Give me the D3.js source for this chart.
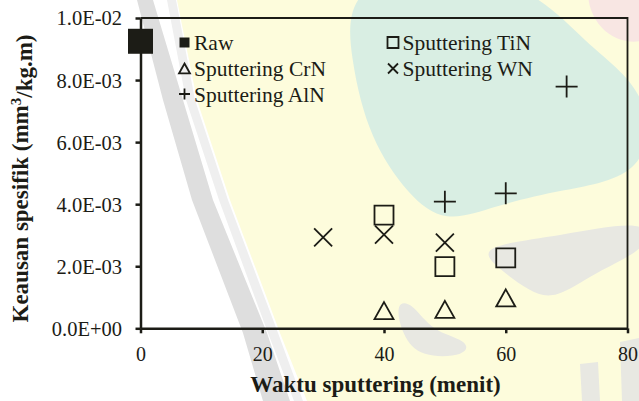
<!DOCTYPE html>
<html>
<head>
<meta charset="utf-8">
<script src="https://cdn.jsdelivr.net/npm/d3@7"></script>
<style>
	body { margin: 0; background: #fff; }
	svg text { font-family: "Liberation Serif", "Times New Roman", Times, serif; fill: #1c1c16; }
</style>
</head>
<body>
<script>
	var width = 639, height = 401;
	var ink = "#1c1c16";
	var serif = "'Liberation Serif', 'Times New Roman', Times, serif";

	// data: waktu sputtering (menit) vs keausan spesifik (mm3/kg.m)
	var rawX = [0];
	var rawY = [9.25e-3];
	var tinX = [40, 50, 60];
	var tinY = [3.65e-3, 1.99e-3, 2.27e-3];
	var crnX = [40, 50, 60];
	var crnY = [0.57e-3, 0.61e-3, 0.98e-3];
	var wnX = [30, 40, 50];
	var wnY = [2.93e-3, 3.02e-3, 2.76e-3];
	var alnX = [50, 60, 70];
	var alnY = [4.08e-3, 4.35e-3, 7.79e-3];

	var xTicks = [0, 20, 40, 60, 80];
	var yTicks = [0, 0.002, 0.004, 0.006, 0.008, 0.01];
	var yTickLabels = ["0.0E+00", "2.0E-03", "4.0E-03", "6.0E-03", "8.0E-03", "1.0E-02"];

	var svg = d3.select("body").append("svg")
		.attr("width", width)
		.attr("height", height);

	/* faded logo watermark behind the chart */
	var wm = svg.append("g");
	var blob = d3.line().curve(d3.curveLinearClosed);
	var soft = d3.line().curve(d3.curveBasisClosed);
	wm.append("path")
		.attr("d", blob([[177, 0], [197, 100], [230, 200], [280, 333], [307, 401], [639, 401], [639, 0]]))
		.attr("fill", "#fdfcdc");
	wm.append("path")
		.attr("d", soft([[345, -30], [350, 60], [370, 140], [408, 195], [445, 224], [495, 206], [560, 190], [650, 176], [650, 90], [585, 45], [520, -30]]))
		.attr("fill", "#d9eee3");
	wm.append("path")
		.attr("d", soft([[580, -30], [592, 25], [625, 45], [660, 40], [660, -30]]))
		.attr("fill", "#f8e6e3");
	wm.append("path")
		.attr("d", blob([[137, 0], [163, 100], [192, 200], [243, 333], [263, 401], [290, 401], [267, 333], [213, 200], [183, 100], [153, 0]]))
		.attr("fill", "#dedede");
	wm.append("path")
		.attr("d", blob([[167, 0], [186, 100], [219, 200], [268, 333], [294, 401], [303, 401], [278, 333], [228, 200], [195, 100], [176, 0]]))
		.attr("fill", "#efefef");
	wm.append("path")
		.attr("d", soft([[478, 246], [560, 236], [650, 218], [650, 248], [595, 272], [555, 300], [530, 292], [495, 266]]))
		.attr("fill", "#e8e8e2");
	wm.append("path")
		.attr("d", soft([[395, 302], [412, 302], [432, 332], [468, 340], [468, 356], [420, 358], [402, 335]]))
		.attr("fill", "#e8e8e2");
	wm.append("path")
		.attr("d", blob([[580, 364], [598, 362], [600, 401], [582, 401]]))
		.attr("fill", "#e8e8e2");
	wm.append("path")
		.attr("d", blob([[620, 342], [639, 338], [639, 401], [622, 401]]))
		.attr("fill", "#e8e8e2");

	/* scales and axes */
	var x = d3.scaleLinear().domain([0, 80]).range([140.5, 627.5]);
	var y = d3.scaleLinear().domain([0, 0.01]).range([328.3, 18]);

	var gx = svg.append("g")
		.attr("transform", "translate(0," + y(0) + ")")
		.call(d3.axisBottom(x).tickValues(xTicks).tickSize(5).tickSizeOuter(0).tickPadding(14));
	var gy = svg.append("g")
		.attr("transform", "translate(" + x(0) + ",0)")
		.call(d3.axisLeft(y).tickValues(yTicks).tickFormat(function(d, i) { return yTickLabels[i]; })
			.tickSize(5).tickSizeOuter(0).tickPadding(13.5));

	[gx, gy].forEach(function(g) {
		g.attr("font-family", serif);
		g.select(".domain").attr("stroke", ink).attr("stroke-width", 2.5);
		g.selectAll(".tick line").attr("stroke", ink).attr("stroke-width", 2.5);
		g.selectAll(".tick text").style("font-family", serif).attr("fill", ink);
	});
	gx.selectAll(".tick text").style("font-size", "20px");
	gy.selectAll(".tick text").style("font-size", "20.5px").attr("dy", "0.34em");

	// frame on top and right
	svg.append("path")
		.attr("d", "M" + x(0) + "," + y(0.01) + "H" + x(80) + "V" + y(0))
		.attr("fill", "none")
		.attr("stroke", ink)
		.attr("stroke-width", 1.8);

	/* marker shapes */
	function square(s) { return "M" + (-s / 2) + "," + (-s / 2) + "h" + s + "v" + s + "h" + (-s) + "Z"; }
	function triangle(s) { var h = s * 0.9; return "M0," + (-h / 2) + "L" + (s / 2) + "," + (h / 2) + "L" + (-s / 2) + "," + (h / 2) + "Z"; }
	function plus(s) { return "M" + (-s / 2) + ",0H" + (s / 2) + "M0," + (-s / 2) + "V" + (s / 2); }
	function cross(s) { var a = s / 2; return "M" + (-a) + "," + (-a) + "L" + a + "," + a + "M" + a + "," + (-a) + "L" + (-a) + "," + a; }

	var series = [
		{ name: "Raw", xs: rawX, ys: rawY, shape: square, size: 25, legendSize: 10, filled: true },
		{ name: "Sputtering TiN", xs: tinX, ys: tinY, shape: square, size: 19, legendSize: 11, filled: false },
		{ name: "Sputtering CrN", xs: crnX, ys: crnY, shape: triangle, size: 19, legendSize: 11, filled: false },
		{ name: "Sputtering WN", xs: wnX, ys: wnY, shape: cross, size: 18, legendSize: 10, filled: false },
		{ name: "Sputtering AlN", xs: alnX, ys: alnY, shape: plus, size: 22, legendSize: 11, filled: false }
	];

	series.forEach(function(s) {
		svg.append("g").selectAll("path")
			.data(s.xs.map(function(v, i) { return [v, s.ys[i]]; }))
			.enter().append("path")
			.attr("transform", function(d) { return "translate(" + x(d[0]) + "," + y(d[1]) + ")"; })
			.attr("d", s.shape(s.size))
			.attr("fill", s.filled ? ink : "none")
			.attr("stroke", ink)
			.attr("stroke-width", s.filled ? 0 : 1.8);
	});

	/* legend */
	var legendPos = {
		"Raw": [184.5, 42.5],
		"Sputtering CrN": [184.5, 68.5],
		"Sputtering AlN": [184.5, 94],
		"Sputtering TiN": [393, 42.5],
		"Sputtering WN": [393, 68.5]
	};
	series.forEach(function(s) {
		var p = legendPos[s.name];
		var g = svg.append("g").attr("transform", "translate(" + p[0] + "," + p[1] + ")");
		g.append("path")
			.attr("d", s.shape(s.legendSize))
			.attr("fill", s.filled ? ink : "none")
			.attr("stroke", ink)
			.attr("stroke-width", s.filled ? 0 : 1.8);
		g.append("text")
			.attr("x", 9.5)
			.attr("y", 7.5)
			.style("font-family", serif)
			.style("font-size", "21.5px")
			.text(s.name);
	});

	/* axis titles */
	svg.append("text")
		.attr("x", 375.5)
		.attr("y", 392)
		.attr("text-anchor", "middle")
		.style("font-family", serif)
		.style("font-size", "23px")
		.style("font-weight", "bold")
		.text("Waktu sputtering (menit)");

	var yt = svg.append("text")
		.attr("transform", "translate(28,178.5) rotate(-90)")
		.attr("text-anchor", "middle")
		.style("font-family", serif)
		.style("font-size", "23px")
		.style("font-weight", "bold");
	yt.append("tspan").text("Keausan spesifik (mm");
	yt.append("tspan").attr("dy", "-0.45em").style("font-size", "15px").text("3");
	yt.append("tspan").attr("dy", "0.45em").text("/kg.m)");
</script>
</body>
</html>
